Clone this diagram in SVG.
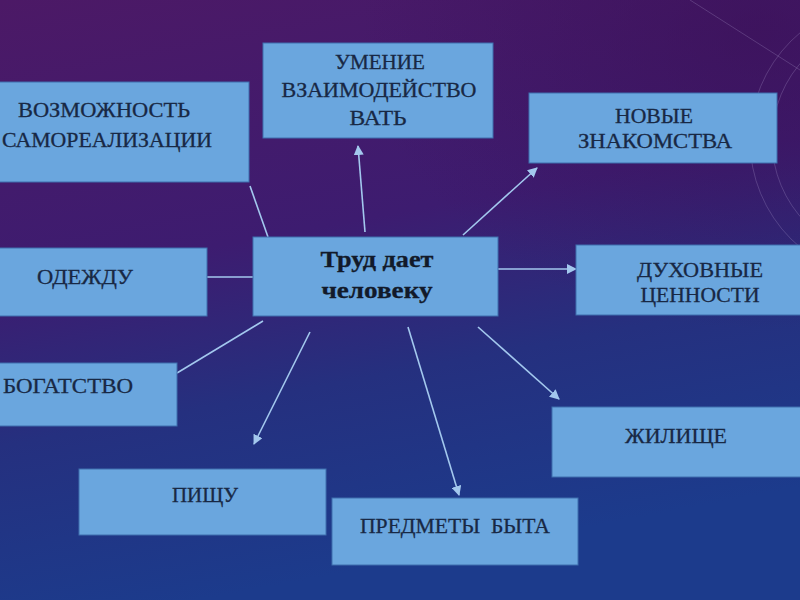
<svg xmlns="http://www.w3.org/2000/svg" width="800" height="600" viewBox="0 0 800 600">
<defs>
<linearGradient id="bg" x1="0" y1="0" x2="0.25" y2="1">
<stop offset="0" stop-color="#4c1966"/>
<stop offset="0.45" stop-color="#3d1c70"/>
<stop offset="0.7" stop-color="#25307f"/>
<stop offset="1" stop-color="#1c3b8c"/>
</linearGradient>
<radialGradient id="tr" cx="0.95" cy="0.05" r="0.5">
<stop offset="0" stop-color="#3a0f55" stop-opacity="0.6"/>
<stop offset="1" stop-color="#3a0f55" stop-opacity="0"/>
</radialGradient>
<marker id="ah" viewBox="0 0 10 10" refX="9" refY="5" markerWidth="10" markerHeight="10" markerUnits="userSpaceOnUse" orient="auto">
<path d="M0,0 L10,5 L0,10 z" fill="#a3c8ee"/>
</marker>
<style>
.box{fill:#6aa6de;stroke:#3f6fae;stroke-width:1}
.t{font-family:"Liberation Serif","Times New Roman",serif;font-size:21px;fill:#182844;stroke:#182844;stroke-width:0.3;text-anchor:middle}
.b{font-weight:bold;font-size:23px;fill:#121a2a;stroke:#121a2a}
.c{stroke:#a3c8ee;stroke-width:1.6;fill:none}
.deco{stroke:#b9a6d8;stroke-width:1;fill:none;opacity:0.25}
</style>
</defs>
<rect width="800" height="600" fill="url(#bg)"/>
<rect width="800" height="600" fill="url(#tr)"/>
<g id="decor">
<circle class="deco" cx="890" cy="140" r="140"/>
<circle class="deco" cx="890" cy="140" r="118"/>
<line class="deco" x1="690" y1="0" x2="800" y2="70"/>
</g>
<g id="connectors">
<line class="c" x1="268" y1="237" x2="250" y2="186"/>
<line class="c" x1="365" y1="232" x2="358" y2="146" marker-end="url(#ah)"/>
<line class="c" x1="463" y1="235" x2="537" y2="168" marker-end="url(#ah)"/>
<line class="c" x1="498" y1="269" x2="576" y2="269" marker-end="url(#ah)"/>
<line class="c" x1="207" y1="277" x2="253" y2="277"/>
<line class="c" x1="263" y1="321" x2="177" y2="373"/>
<line class="c" x1="310" y1="332" x2="254" y2="444" marker-end="url(#ah)"/>
<line class="c" x1="408" y1="327" x2="459" y2="495" marker-end="url(#ah)"/>
<line class="c" x1="478" y1="327" x2="559" y2="399" marker-end="url(#ah)"/>
</g>
<g id="n-samorealizatsiya">
<rect class="box" x="-5" y="82" width="254" height="100"/>
<text class="t" x="104" y="117" textLength="172" lengthAdjust="spacingAndGlyphs">ВОЗМОЖНОСТЬ</text>
<text class="t" x="107" y="147" textLength="210" lengthAdjust="spacingAndGlyphs">САМОРЕАЛИЗАЦИИ</text>
</g>
<g id="n-vzaimodeystvovat">
<rect class="box" x="263" y="43" width="230" height="95"/>
<text class="t" x="380" y="69" textLength="90" lengthAdjust="spacingAndGlyphs">УМЕНИЕ</text>
<text class="t" x="379" y="97" textLength="195" lengthAdjust="spacingAndGlyphs">ВЗАИМОДЕЙСТВО</text>
<text class="t" x="378" y="125" textLength="57" lengthAdjust="spacingAndGlyphs">ВАТЬ</text>
</g>
<g id="n-znakomstva">
<rect class="box" x="529" y="93" width="248" height="70"/>
<text class="t" x="654" y="123" textLength="78" lengthAdjust="spacingAndGlyphs">НОВЫЕ</text>
<text class="t" x="655" y="148" textLength="154" lengthAdjust="spacingAndGlyphs">ЗНАКОМСТВА</text>
</g>
<g id="n-center">
<rect class="box" x="253" y="237" width="245" height="79"/>
<text class="t b" x="377" y="267" textLength="113" lengthAdjust="spacingAndGlyphs">Труд дает</text>
<text class="t b" x="377" y="298" textLength="111" lengthAdjust="spacingAndGlyphs">человеку</text>
</g>
<g id="n-dukhovnye">
<rect class="box" x="576" y="245" width="230" height="70"/>
<text class="t" x="700" y="277" textLength="126" lengthAdjust="spacingAndGlyphs">ДУХОВНЫЕ</text>
<text class="t" x="700" y="302" textLength="119" lengthAdjust="spacingAndGlyphs">ЦЕННОСТИ</text>
</g>
<g id="n-odezhdu">
<rect class="box" x="-5" y="248" width="212" height="68"/>
<text class="t" x="85" y="284" textLength="96" lengthAdjust="spacingAndGlyphs">ОДЕЖДУ</text>
</g>
<g id="n-bogatstvo">
<rect class="box" x="-5" y="363" width="182" height="63"/>
<text class="t" x="68" y="393" textLength="130" lengthAdjust="spacingAndGlyphs">БОГАТСТВО</text>
</g>
<g id="n-pishchu">
<rect class="box" x="79" y="469" width="247" height="66"/>
<text class="t" x="205" y="502" textLength="66" lengthAdjust="spacingAndGlyphs">ПИЩУ</text>
</g>
<g id="n-predmety">
<rect class="box" x="332" y="498" width="246" height="67"/>
<text class="t" x="455" y="533" textLength="190" lengthAdjust="spacingAndGlyphs" style="white-space:pre">ПРЕДМЕТЫ  БЫТА</text>
</g>
<g id="n-zhilishche">
<rect class="box" x="552" y="407" width="253" height="70"/>
<text class="t" x="676" y="443" textLength="102" lengthAdjust="spacingAndGlyphs">ЖИЛИЩЕ</text>
</g>
</svg>
